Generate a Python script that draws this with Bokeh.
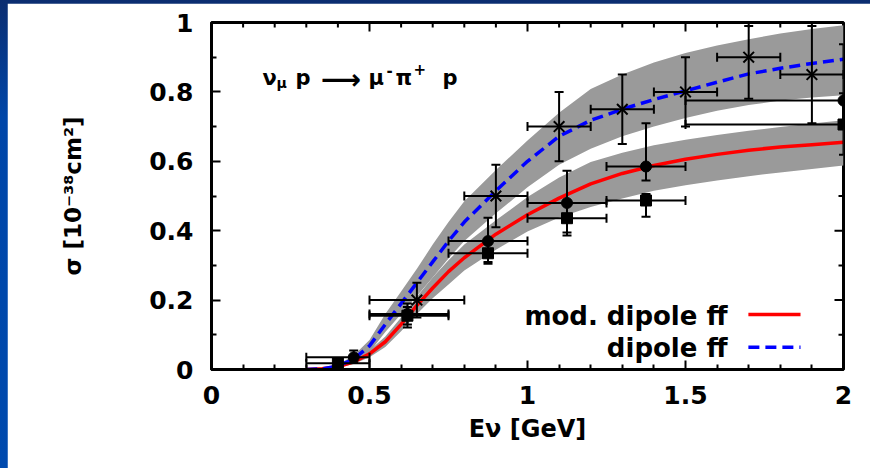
import numpy as np
from bokeh.plotting import figure
from bokeh.models import (Range1d, FixedTicker, LinearAxis, Whisker, TeeHead,
                          ColumnDataSource, Label)
from bokeh.layouts import column
from bokeh.embed import file_html
from bokeh.resources import INLINE

# ---------------- data ----------------
curve_x = [0.30, 0.35, 0.40, 0.45, 0.50, 0.55, 0.60, 0.65, 0.70, 0.75, 0.80, 0.90,
           1.00, 1.10, 1.20, 1.30, 1.40, 1.50, 1.60, 1.70, 1.80, 1.90, 2.00]
mod_dipole = [0.000, 0.002, 0.008, 0.022, 0.045, 0.080, 0.130, 0.185, 0.235, 0.282, 0.322, 0.390,
              0.446, 0.494, 0.535, 0.565, 0.588, 0.606, 0.620, 0.632, 0.641, 0.648, 0.655]
mod_band_lo = [0.000, 0.001, 0.005, 0.016, 0.035, 0.065, 0.110, 0.160, 0.205, 0.245, 0.285, 0.345,
               0.398, 0.438, 0.468, 0.493, 0.515, 0.531, 0.545, 0.557, 0.568, 0.578, 0.588]
mod_band_hi = [0.000, 0.003, 0.011, 0.028, 0.055, 0.095, 0.150, 0.210, 0.265, 0.315, 0.360, 0.430,
               0.497, 0.553, 0.598, 0.625, 0.646, 0.662, 0.676, 0.688, 0.699, 0.709, 0.718]
dipole = [0.000, 0.002, 0.010, 0.030, 0.068, 0.130, 0.190, 0.250, 0.310, 0.370, 0.425, 0.515,
          0.600, 0.672, 0.718, 0.750, 0.778, 0.803, 0.828, 0.852, 0.868, 0.882, 0.894]
dip_band_lo = [0.000, 0.001, 0.007, 0.022, 0.050, 0.108, 0.160, 0.212, 0.265, 0.320, 0.370, 0.450,
               0.525, 0.590, 0.636, 0.672, 0.700, 0.725, 0.746, 0.762, 0.775, 0.784, 0.790]
dip_band_hi = [0.000, 0.003, 0.014, 0.040, 0.085, 0.160, 0.225, 0.290, 0.360, 0.425, 0.485, 0.575,
               0.660, 0.740, 0.808, 0.850, 0.885, 0.912, 0.934, 0.952, 0.968, 0.981, 0.992]

# crosses
cr_x = [0.65, 0.90, 1.10, 1.30, 1.50, 1.70, 1.90]
cr_y = [0.20, 0.50, 0.70, 0.75, 0.80, 0.90, 0.85]
cr_xlo = [0.50, 0.80, 1.00, 1.20, 1.40, 1.60, 1.80]
cr_xhi = [0.80, 1.00, 1.20, 1.40, 1.60, 1.80, 2.00]
cr_ylo = [0.15, 0.41, 0.60, 0.65, 0.70, 0.78, 0.71]
cr_yhi = [0.25, 0.59, 0.80, 0.85, 0.90, 0.99, 0.99]

# filled circles
ci_x = [0.45, 0.62, 0.875, 1.125, 1.375, 2.00]
ci_y = [0.035, 0.16, 0.370, 0.480, 0.585, 0.775]
ci_xlo = [0.30, 0.50, 0.75, 1.00, 1.25, 1.50]
ci_xhi = [0.50, 0.75, 1.00, 1.25, 1.50, 2.00]
ci_ylo = [0.020, 0.13, 0.310, 0.395, 0.545, 0.700]
ci_yhi = [0.055, 0.19, 0.437, 0.573, 0.710, 0.937]

# filled squares
sq_x = [0.40, 0.62, 0.875, 1.125, 1.375, 2.00]
sq_y = [0.018, 0.155, 0.335, 0.436, 0.487, 0.706]
sq_xlo = [0.30, 0.50, 0.75, 1.00, 1.25, 1.50]
sq_xhi = [0.50, 0.75, 1.00, 1.25, 1.50, 2.00]
sq_ylo = [0.004, 0.121, 0.305, 0.386, 0.440, 0.619]
sq_yhi = [0.028, 0.180, 0.365, 0.485, 0.506, 0.796]

x_ticks = [0, 0.5, 1, 1.5, 2]
x_tick_labels = ["0", "0.5", "1", "1.5", "2"]
y_ticks = [0, 0.2, 0.4, 0.6, 0.8, 1.0]
y_tick_labels = ["0", "0.2", "0.4", "0.6", "0.8", "1"]
x_minor = [0.1, 0.2, 0.3, 0.4, 0.6, 0.7, 0.8, 0.9, 1.1, 1.2, 1.3, 1.4, 1.6, 1.7, 1.8, 1.9]
y_minor = [0.1, 0.3, 0.5, 0.7, 0.9]

# ---------------- figure ----------------
FONT = "DejaVu Sans"
p = figure(width=863, height=465, output_backend="svg", toolbar_location=None,
           x_range=Range1d(0, 2), y_range=Range1d(0, 1),
           min_border_left=204, min_border_right=27, min_border_top=19, min_border_bottom=99,
           x_axis_location=None, y_axis_location=None)
p.margin = (3, 0, 0, 7)
p.grid.visible = False
p.outline_line_color = "black"
p.outline_line_width = 3
p.background_fill_color = "white"
p.border_fill_color = "white"


def make_axis(kind, loc, ticks, minor, labels, title, standoff, title_standoff, title_size):
    ax = LinearAxis(ticker=FixedTicker(ticks=ticks, minor_ticks=minor))
    ax.axis_line_width = 3
    ax.major_tick_in = 9
    ax.major_tick_out = 0
    ax.minor_tick_in = 5
    ax.minor_tick_out = 0
    ax.major_tick_line_width = 2
    ax.minor_tick_line_width = 2
    ax.major_label_overrides = {t: l for t, l in zip(ticks, labels)}
    ax.major_label_text_font = FONT
    ax.major_label_text_font_style = "bold"
    ax.major_label_text_font_size = "25px"
    ax.major_label_text_color = "black"
    ax.major_label_standoff = standoff
    ax.axis_label = title
    ax.axis_label_text_font = FONT
    ax.axis_label_text_font_style = "bold"
    ax.axis_label_text_font_size = title_size
    ax.axis_label_text_color = "black"
    ax.axis_label_standoff = title_standoff
    p.add_layout(ax, loc)


make_axis("x", "below", x_ticks, [0.0] + x_minor, x_tick_labels, "E\u03bd [GeV]", 16, 8, "24px")
make_axis("y", "left", y_ticks, [0.0] + y_minor, y_tick_labels,
          "\u03c3 [10\u207b\u00b3\u2078cm\u00b2]", 18, 60, "23px")

# mirrored inward ticks on the top and right frame edges (half of each dash is clipped)
p.scatter(x=x_ticks, y=[1.0] * len(x_ticks), marker="dash", size=18, angle=np.pi / 2,
          line_color="black", line_width=2)
p.scatter(x=x_minor, y=[1.0] * len(x_minor), marker="dash", size=10, angle=np.pi / 2,
          line_color="black", line_width=2)
p.scatter(x=[2.0] * len(y_ticks), y=y_ticks, marker="dash", size=18,
          line_color="black", line_width=2)
p.scatter(x=[2.0] * len(y_minor), y=y_minor, marker="dash", size=10,
          line_color="black", line_width=2)

# bands
p.varea(x=curve_x, y1=dip_band_lo, y2=dip_band_hi, fill_color="#9a9a9a")
p.varea(x=curve_x, y1=mod_band_lo, y2=mod_band_hi, fill_color="#9a9a9a")
# curves
p.line(curve_x, mod_dipole, line_color="#ff0000", line_width=3.5)
p.line(curve_x, dipole, line_color="#0000ff", line_width=3.5, line_dash="11 6")


def errbars(xs, ys, xlo, xhi, ylo, yhi):
    src = ColumnDataSource(dict(x=xs, y=ys, xlo=xlo, xhi=xhi, ylo=ylo, yhi=yhi))
    for dim, base, lo, hi in (("width", "y", "xlo", "xhi"), ("height", "x", "ylo", "yhi")):
        w = Whisker(source=src, base=base, lower=lo, upper=hi, dimension=dim,
                    line_color="black", line_width=2, level="annotation",
                    upper_head=TeeHead(size=9, line_width=2, line_color="black"),
                    lower_head=TeeHead(size=9, line_width=2, line_color="black"))
        p.add_layout(w)
    return src


errbars(cr_x, cr_y, cr_xlo, cr_xhi, cr_ylo, cr_yhi)
errbars(ci_x, ci_y, ci_xlo, ci_xhi, ci_ylo, ci_yhi)
errbars(sq_x, sq_y, sq_xlo, sq_xhi, sq_ylo, sq_yhi)

p.scatter(cr_x, cr_y, marker="x", size=15, line_color="black", line_width=2)
p.scatter(ci_x, ci_y, marker="circle", size=11, fill_color="black", line_color="black")
p.scatter(sq_x, sq_y, marker="square", size=11, fill_color="black", line_color="black")


# ---------------- texts inside the frame (data coordinates) ----------------
def lab(x, y, text, size, align="left"):
    p.add_layout(Label(x=x, y=y, text=text, text_font=FONT, text_font_style="bold",
                       text_font_size=size, text_color="black", text_align=align,
                       text_baseline="alphabetic"))


# reaction
lab(0.161, 0.839, "\u03bd", "21px")
lab(0.206, 0.826, "\u03bc", "14px")
lab(0.266, 0.839, "p", "21px")
lab(0.346, 0.837, "\u27f6", "28px")
lab(0.497, 0.839, "\u03bc", "21px")
lab(0.554, 0.862, "-", "15px")
lab(0.582, 0.839, "\u03c0", "21px")
lab(0.639, 0.865, "+", "15px")
lab(0.731, 0.839, "p", "21px")

# legend (text left, line sample right)
lab(1.633, 0.153, "mod. dipole ff", "26px", align="right")
lab(1.633, 0.063, "dipole ff", "26px", align="right")
leg_x = [1.699, 1.864]
p.line(leg_x, [0.1585, 0.1585], line_color="#ff0000", line_width=3.5)
p.line(leg_x, [0.064, 0.064], line_color="#0000ff", line_width=3.5, line_dash="11 6")

layout = column(p, width=870, height=468,
                styles={"background": "linear-gradient(to bottom, #0b2d70 0%, #0046a8 25%, #004aae 100%)"})
open("out.html", "w").write(file_html(layout, INLINE))
